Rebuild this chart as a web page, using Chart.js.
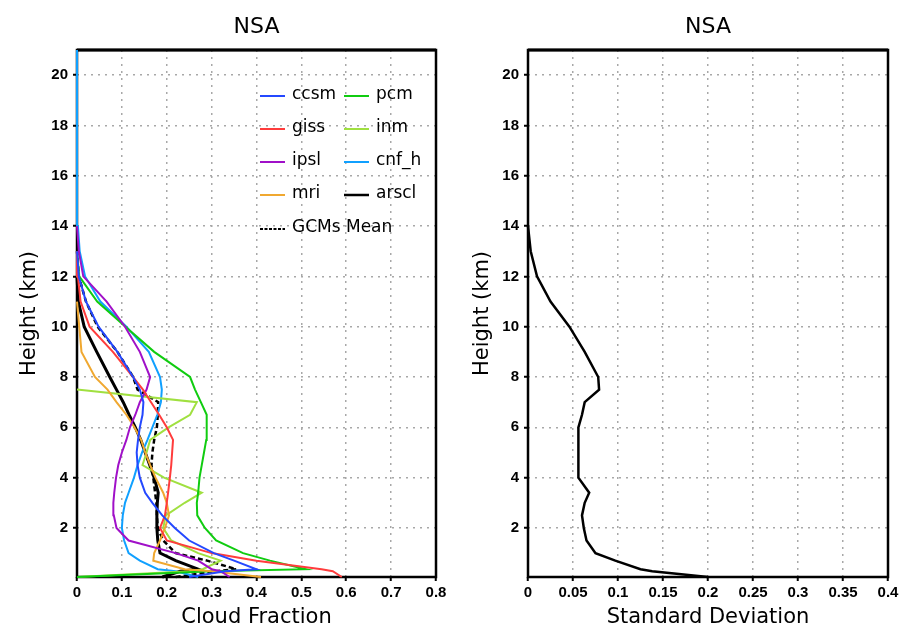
<!DOCTYPE html>
<html>
<head>
<meta charset="utf-8">
<script src="https://cdn.jsdelivr.net/npm/chart.js@4.4.0/dist/chart.umd.min.js"></script>
<style>
  body { margin: 0; background: #fff; width: 907px; height: 638px; overflow: hidden; position: relative; }
  #cloudChart { position: absolute; left: 0; top: 0; }
  #sdChart { position: absolute; left: 453px; top: 0; }
</style>
</head>
<body>
<canvas id="cloudChart" width="453" height="638"></canvas>
<canvas id="sdChart" width="454" height="638"></canvas>
<script>
// model levels (km) shared by every profile
var heights = [0.05, 0.28, 0.36, 0.7, 1.0, 1.5, 2, 2.5, 3, 3.4, 4, 4.5, 5, 5.5, 6, 6.5, 7, 7.5, 8, 9, 10, 11, 12, 13, 14, 16, 21];

// cloud fraction profiles, null = above top of profile
var ccsm  = [0.25, 0.33, 0.40, 0.35, 0.305, 0.25, 0.218, 0.19, 0.168, 0.152, 0.14, 0.135, 0.133, 0.136, 0.140, 0.146, 0.148, 0.14, 0.125, 0.09, 0.048, 0.02, 0.004, 0, null, null, null];
var giss  = [0.59, 0.57, 0.545, 0.40, 0.30, 0.20, 0.185, 0.196, 0.20, 0.203, 0.207, 0.21, 0.212, 0.214, 0.20, 0.183, 0.165, 0.147, 0.125, 0.08, 0.028, 0.008, 0.002, 0, null, null, null];
var ipsl  = [0.34, 0.32, 0.30, 0.27, 0.22, 0.115, 0.088, 0.082, 0.081, 0.083, 0.087, 0.092, 0.10, 0.11, 0.118, 0.13, 0.14, 0.155, 0.163, 0.14, 0.107, 0.066, 0.014, 0.004, 0, null, null];
var mri   = [0.41, 0.30, 0.24, 0.17, 0.172, 0.185, 0.196, 0.205, 0.20, 0.192, 0.175, 0.163, 0.152, 0.143, 0.128, 0.11, 0.088, 0.068, 0.04, 0.01, 0.005, 0, null, null, null, null, null];
var pcm   = [0, 0.30, 0.51, 0.43, 0.37, 0.31, 0.285, 0.268, 0.267, 0.27, 0.273, 0.278, 0.283, 0.288, 0.289, 0.289, 0.276, 0.263, 0.252, 0.172, 0.108, 0.045, 0.005, 0, null, null, null];
var inm   = [0, 0.25, 0.28, 0.32, 0.27, 0.21, 0.192, 0.198, 0.24, 0.278, 0.194, 0.146, 0.155, 0.163, 0.204, 0.252, 0.267, 0, null, null, null, null, null, null, null, null, null];
var cnf_h = [0.27, 0.22, 0.18, 0.14, 0.115, 0.105, 0.10, 0.102, 0.107, 0.115, 0.127, 0.135, 0.145, 0.157, 0.168, 0.179, 0.187, 0.189, 0.185, 0.16, 0.11, 0.052, 0.018, 0.006, 0.002, 0, 0];
var arscl = [0.19, 0.23, 0.27, 0.22, 0.185, 0.18, 0.178, 0.178, 0.179, 0.181, 0.172, 0.162, 0.152, 0.142, 0.13, 0.116, 0.103, 0.088, 0.073, 0.044, 0.016, 0.003, 0, null, null, null, null];
var gcmMean = [0.22, 0.31, 0.355, 0.29, 0.22, 0.192, 0.18, 0.178, 0.177, 0.174, 0.17, 0.166, 0.168, 0.172, 0.178, 0.18, 0.181, 0.135, 0.125, 0.09, 0.046, 0.02, 0.004, 0, null, null, null];

// standard deviation across the GCMs
var stdDev = [0.2, 0.138, 0.125, 0.097, 0.075, 0.065, 0.062, 0.06, 0.063, 0.068, 0.056, 0.056, 0.056, 0.056, 0.056, 0.06, 0.063, 0.079, 0.078, 0.063, 0.046, 0.025, 0.01, 0.003, 0, null, null];

var yTicks = [2, 4, 6, 8, 10, 12, 14, 16, 18, 20];

var tickFont = {family: 'Liberation Sans', size: 15, weight: 'bold'};
var labelFont = {family: 'DejaVu Sans', size: 21};
var gridColor = '#a8a8a8';

function toPoints(vals) {
    var pts = [];
    for (var i = 0; i < vals.length; i++) {
        if (vals[i] !== null) pts.push({x: vals[i], y: heights[i]});
    }
    return pts;
}

function profile(label, vals, color, width, dash) {
    return {
        label: label,
        data: toPoints(vals),
        borderColor: color,
        backgroundColor: color,
        borderWidth: width || 2,
        borderDash: dash || [],
        showLine: true,
        pointRadius: 0,
        tension: 0,
        clip: 3
    };
}

// white page, title over the plot area, box round the plot
var framePlugin = {
    id: 'frame',
    beforeDraw: function(chart) {
        var ctx = chart.ctx;
        ctx.save();
        ctx.fillStyle = '#fff';
        ctx.fillRect(0, 0, chart.width, chart.height);
        ctx.restore();
    },
    beforeDatasetsDraw: function(chart) {
        var a = chart.chartArea, ctx = chart.ctx;
        ctx.save();
        ctx.strokeStyle = '#000';
        ctx.lineWidth = 2.5;
        ctx.strokeRect(a.left, a.top, a.right - a.left, a.bottom - a.top);
        ctx.lineWidth = 3;
        ctx.beginPath();
        ctx.moveTo(a.left, a.top);
        ctx.lineTo(a.right, a.top);
        ctx.stroke();
        ctx.restore();
    },
    afterDraw: function(chart) {
        var a = chart.chartArea, ctx = chart.ctx;
        ctx.save();
        ctx.fillStyle = '#000';
        ctx.font = '22px "DejaVu Sans"';
        ctx.textAlign = 'center';
        ctx.textBaseline = 'middle';
        ctx.fillText(chart.options.plugins.frame.title, (a.left + a.right) / 2, 27);
        ctx.restore();
    }
};

// legend drawn inside the plot, two columns like the original
var legendPlugin = {
    id: 'boxLegend',
    afterDatasetsDraw: function(chart) {
        var ctx = chart.ctx;
        var slots = {
            'ccsm': [260, 96], 'pcm': [344, 96],
            'giss': [260, 129], 'inm': [344, 129],
            'ipsl': [260, 162], 'cnf_h': [344, 162],
            'mri': [260, 195], 'arscl': [344, 195],
            'GCMs Mean': [260, 229]
        };
        ctx.save();
        ctx.font = '17px "DejaVu Sans"';
        ctx.textBaseline = 'middle';
        chart.data.datasets.forEach(function(ds) {
            var s = slots[ds.label];
            if (!s) return;
            ctx.strokeStyle = ds.borderColor;
            ctx.lineWidth = ds.label === 'arscl' ? 2.5 : 2;
            ctx.setLineDash(ds.label === 'GCMs Mean' ? [3, 1.5] : []);
            ctx.beginPath();
            ctx.moveTo(s[0], s[1]);
            ctx.lineTo(s[0] + 25, s[1]);
            ctx.stroke();
            ctx.setLineDash([]);
            ctx.fillStyle = '#000';
            ctx.fillText(ds.label, s[0] + 32, s[1] - 1);
        });
        ctx.restore();
    }
};

function xAxis(max, step, title) {
    return {
        type: 'linear', position: 'bottom', min: 0, max: max,
        afterFit: function(s) { s.height = 61; },
        ticks: {
            stepSize: step, autoSkip: false, maxRotation: 0, font: tickFont, color: '#000', padding: 3,
            callback: function(v) { return String(+v.toFixed(2)); }
        },
        grid: {color: gridColor, lineWidth: 1.5, tickLength: 4, tickColor: '#000', tickWidth: 2},
        border: {display: false, dash: [2, 5]},
        title: {display: true, text: title, font: labelFont, color: '#000', padding: {top: 0, bottom: 8}}
    };
}

function yAxis(width) {
    return {
        type: 'linear', min: 0.05, max: 21,
        afterBuildTicks: function(s) { s.ticks = yTicks.map(function(v) { return {value: v}; }); },
        afterFit: function(s) { s.width = width; },
        ticks: {font: tickFont, color: '#000', padding: 5},
        grid: {color: gridColor, lineWidth: 1.5, tickLength: 4, tickColor: '#000', tickWidth: 2},
        border: {display: false, dash: [2, 5]},
        title: {display: true, text: 'Height (km)', font: labelFont, color: '#000', padding: {top: 17, bottom: 0}}
    };
}

new Chart(document.getElementById('cloudChart'), {
    type: 'scatter',
    data: {
        datasets: [
            profile('ccsm', ccsm, '#2448ff'),
            profile('giss', giss, '#ff3c3c'),
            profile('ipsl', ipsl, '#a010c8'),
            profile('mri', mri, '#f0a830'),
            profile('pcm', pcm, '#10cc10'),
            profile('inm', inm, '#a0e040'),
            profile('cnf_h', cnf_h, '#10a0ff'),
            profile('arscl', arscl, '#000000', 3),
            profile('GCMs Mean', gcmMean, '#000000', 2.5, [5, 3])
        ]
    },
    options: {
        responsive: false,
        animation: false,
        layout: {padding: {top: 50, right: 17, left: 0, bottom: 0}},
        scales: {x: xAxis(0.8, 0.1, 'Cloud Fraction'), y: yAxis(77)},
        plugins: {legend: {display: false}, tooltip: {enabled: false}, frame: {title: 'NSA'}}
    },
    plugins: [framePlugin, legendPlugin]
});

new Chart(document.getElementById('sdChart'), {
    type: 'scatter',
    data: {
        datasets: [profile('Standard Deviation', stdDev, '#000000', 2.5)]
    },
    options: {
        responsive: false,
        animation: false,
        layout: {padding: {top: 50, right: 19, left: 0, bottom: 0}},
        scales: {x: xAxis(0.4, 0.05, 'Standard Deviation'), y: yAxis(75)},
        plugins: {legend: {display: false}, tooltip: {enabled: false}, frame: {title: 'NSA'}}
    },
    plugins: [framePlugin]
});
</script>
</body>
</html>
